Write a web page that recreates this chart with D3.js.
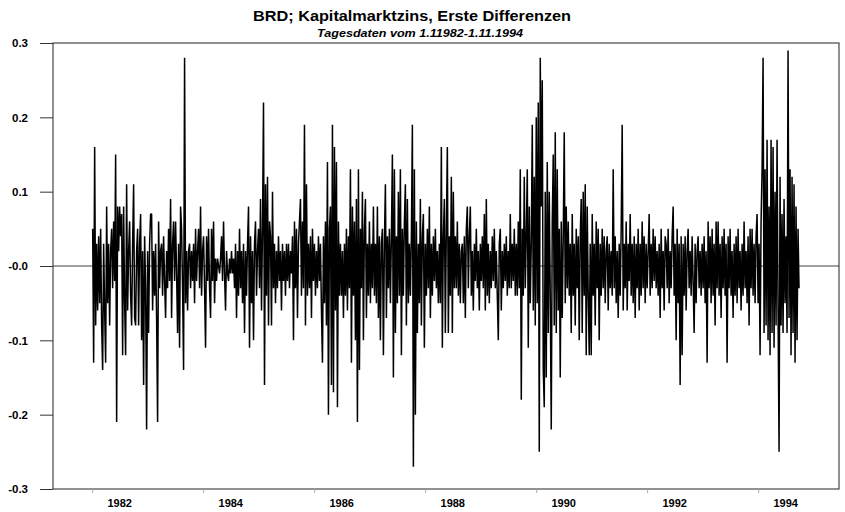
<!DOCTYPE html>
<html>
<head>
<meta charset="utf-8">
<script src="https://cdn.jsdelivr.net/npm/d3@7"></script>
<style>
  body { margin: 0; background: #fff; }
  svg { display: block; font-family: "Liberation Sans", Arial, sans-serif; }
</style>
</head>
<body>
<div id="chart"></div>
<script>
// daily first differences of the capital market rate, in basis points (0.01)
// roughly one value per pixel column
var diffBp = [
  5,-13,16,-8,3,-6,4,-5,5,-8, -14,3,-6,-13,8,-5,3,-8,2,5, -3,6,-2,15,-21,8,2,8,4,7,
  -12,8,-5,-12,11,-6,2,6,-4,-8, 3,11,-7,-8,2,5,-8,3,7,-10, 2,-16,4,-3,-22,2,-9,3,7,7,
  -6,2,-4,3,-7,-21,6,-3,2,3, -4,4,-2,-7,2,-3,5,-2,9,-7, 3,6,-2,6,-1,-9,3,-11,8,5,
  -3,-14,28,-5,2,-6,2,3,-3,2, -2,3,-5,5,-2,2,5,-3,8,-4, 2,4,-3,-11,4,-2,5,-3,-7,5,
  -2,6,-5,1,-2,1,0,-1,1,4, -2,6,-1,-6,2,-1,-2,1,-1,2, -1,
  1,-3,3,-7,2,-4,5,-3,2,-5, 3,-9,2,-4,3,8,-11,4,-5,2, -10,3,6,-4,2,5,-3,9,-6,5,
  22,-16,11,-4,12,-8,6,4,-8,10, -3,3,-5,2,-3,4,-2,2,-6,3, -2,2,-4,3,-2,3,-3,2,-1,4,
  -10,6,-3,5,-7,3,6,9,-4,6, -3,19,-8,11,-4,3,-3,4,-7,5, -2,3,-4,2,-3,4,-2,3,-6,-13,
  4,-5,6,-8,14,-20,5,8,-16,19, -17,16,-6,14,-19,6,-4,3,-4,2, -7,3,-4,5,-6,4,-3,13,-13,8,
  -4,6,-10,9,-21,13,-14,5,-3,10, -10,5,9,-7,3,-4,6,-5,3,-3, 8,-4,
  3,-5,8,-7,4,-10,3,5,-12,3, 11,-7,4,-3,5,-5,4,15,-15,13, -9,4,-5,10,-4,13,-12,5,-4,6,
  11,-8,9,-5,3,-4,4,19,-27,13, -20,6,-9,3,-5,9,-8,4,7,-11, 3,-4,5,-3,8,-7,3,-4,4,-2,
  5,-3,2,-5,3,-5,16,-11,4,9, -9,5,16,-9,4,-4,12,-9,10,-3, 4,-3,6,-4,3,-5,2,3,-5,4,
  -7,5,8,-3,4,8,-4,2,-6,3, -2,5,-3,2,-6,3,-2,4,-3,7, -6,9,-4,3,-5,2,-3,4,-2,5,
  -3,2,-4,-10,3,5,-6,2,-3,3, -2,4,-4,2,-3,7,-3,3,-2,5, -4,3,
  -4,6,-3,13,-18,5,-4,12,-3,4, 13,-11,8,-5,3,19,-6,12,-8,20, -5,22,-25,28,8,25,-14,-19,10,-15,
  14,-9,10,-4,-22,6,15,-8,18,-9, 13,-6,5,-15,6,-7,4,18,-5,8, -3,6,-4,3,-9,7,-4,3,-8,5,
  -3,4,-10,4,9,-9,10,-4,11,-12, 8,-4,-12,3,-12,7,-4,3,-8,6, -3,5,-10,3,-4,5,-3,4,-5,2,
  4,-6,3,-3,2,-4,13,-3,4,-5, 2,-7,3,-4,5,19,-6,3,-3,6, -6,3,-2,7,-4,3,-5,4,-7,3,
  -3,5,-6,3,-4,6,-3,4,-5,3, -3,2,7,-4,3,-3,5,-2,4,-3, 2,-4,
  3,-7,5,-3,2,-6,4,3,-3,5, -5,2,-3,4,8,-4,3,-10,5,-5, 3,-16,4,-12,3,-4,4,-6,2,5,
  -3,2,-4,4,-2,-9,3,-5,2,4, -3,2,-4,3,-3,4,-5,2,-13,6, -3,4,-5,5,-4,3,-8,6,-3,6,
  -4,3,-7,4,-3,5,-4,3,-13,4, -3,5,-4,2,-7,3,-4,4,-5,5, -3,2,-6,3,-4,6,-3,2,-5,4,
  -8,5,-3,5,-4,3,-5,4,7,-5, 3,-12,6,13,28,-9,13,-8,17,-10, 8,-12,17,-9,16,-11,10,-8,17,-6,
  -25,12,-8,7,-9,9,-5,4,-9,29, -7,13,-12,12,-9,11,-13,8,-10,5, -3
];
var firstDay = new Date(1982, 0, 4);
var lastDay = new Date(1994, 8, 27);

var yTicks = [0.3, 0.2, 0.1, 0, -0.1, -0.2, -0.3];
var yTickLabels = ["0.3", "0.2", "0.1", "-0.0", "-0.1", "-0.2", "-0.3"];
var yearLabels = [1982, 1984, 1986, 1988, 1990, 1992, 1994];

var titleText = "BRD; Kapitalmarktzins, Erste Differenzen";
var subtitleText = "Tagesdaten vom 1.11982-1.11.1994";

var width = 845, height = 512;
var plot = { left: 53, right: 839, top: 43, bottom: 489 };

var svg = d3.select("#chart").append("svg")
    .attr("width", width)
    .attr("height", height);

var step = (lastDay - firstDay) / (diffBp.length - 1);
var data = diffBp.map(function (v, i) {
    return { date: new Date(+firstDay + i * step), value: v / 100 };
});

var x = d3.scaleTime()
    .domain([new Date(1981, 3, 18), new Date(1995, 5, 17)])
    .range([plot.left, plot.right]);
var y = d3.scaleLinear()
    .domain([-0.3, 0.3])
    .range([plot.bottom, plot.top]);

// titles
svg.append("text")
    .attr("x", 412).attr("y", 21)
    .attr("text-anchor", "middle")
    .attr("font-weight", "bold")
    .attr("font-size", 15.5)
    .attr("textLength", 318)
    .attr("lengthAdjust", "spacingAndGlyphs")
    .text(titleText);
svg.append("text")
    .attr("x", 420).attr("y", 37)
    .attr("text-anchor", "middle")
    .attr("font-weight", "bold")
    .attr("font-style", "italic")
    .attr("font-size", 11)
    .attr("textLength", 206)
    .attr("lengthAdjust", "spacingAndGlyphs")
    .text(subtitleText);

// zero line
svg.append("line")
    .attr("x1", plot.left).attr("x2", plot.right)
    .attr("y1", y(0)).attr("y2", y(0))
    .attr("stroke", "#444").attr("stroke-width", 1);

// series
var line = d3.line()
    .x(function (d) { return x(d.date); })
    .y(function (d) { return y(d.value); });
svg.append("path")
    .datum(data)
    .attr("fill", "none")
    .attr("stroke", "#000")
    .attr("stroke-width", 1.5)
    .attr("stroke-linejoin", "bevel")
    .attr("d", line);

// frame
svg.append("rect")
    .attr("x", plot.left).attr("y", plot.top)
    .attr("width", plot.right - plot.left)
    .attr("height", plot.bottom - plot.top)
    .attr("fill", "none")
    .attr("stroke", "#222").attr("stroke-width", 1);

// y axis
var yAxis = d3.axisLeft(y)
    .tickValues(yTicks)
    .tickSize(13)
    .tickPadding(12)
    .tickFormat(function (d, i) { return yTickLabels[i]; });
var gy = svg.append("g")
    .attr("transform", "translate(" + plot.left + ",0)")
    .call(yAxis);
gy.select(".domain").remove();
gy.selectAll(".tick line").attr("stroke", "#333");
gy.selectAll(".tick text")
    .attr("fill", "#000")
    .attr("font-size", 11.5)
    .attr("font-weight", "bold")
    .attr("font-family", "Liberation Sans, Arial, sans-serif");

// x axis: small ticks at the start of every second year, labels mid-year
var xAxis = d3.axisBottom(x)
    .tickValues(yearLabels.map(function (yr) { return new Date(yr, 0, 1); }))
    .tickSize(4)
    .tickFormat("");
var gx = svg.append("g")
    .attr("transform", "translate(0," + plot.bottom + ")")
    .call(xAxis);
gx.select(".domain").remove();
gx.selectAll(".tick line").attr("stroke", "#aaa");

svg.append("g").selectAll("text")
    .data(yearLabels)
    .enter().append("text")
    .attr("x", function (d) { return x(new Date(d, 6, 1)); })
    .attr("y", 507)
    .attr("text-anchor", "middle")
    .attr("font-size", 11)
    .attr("font-weight", "bold")
    .text(function (d) { return d; });
</script>
</body>
</html>
